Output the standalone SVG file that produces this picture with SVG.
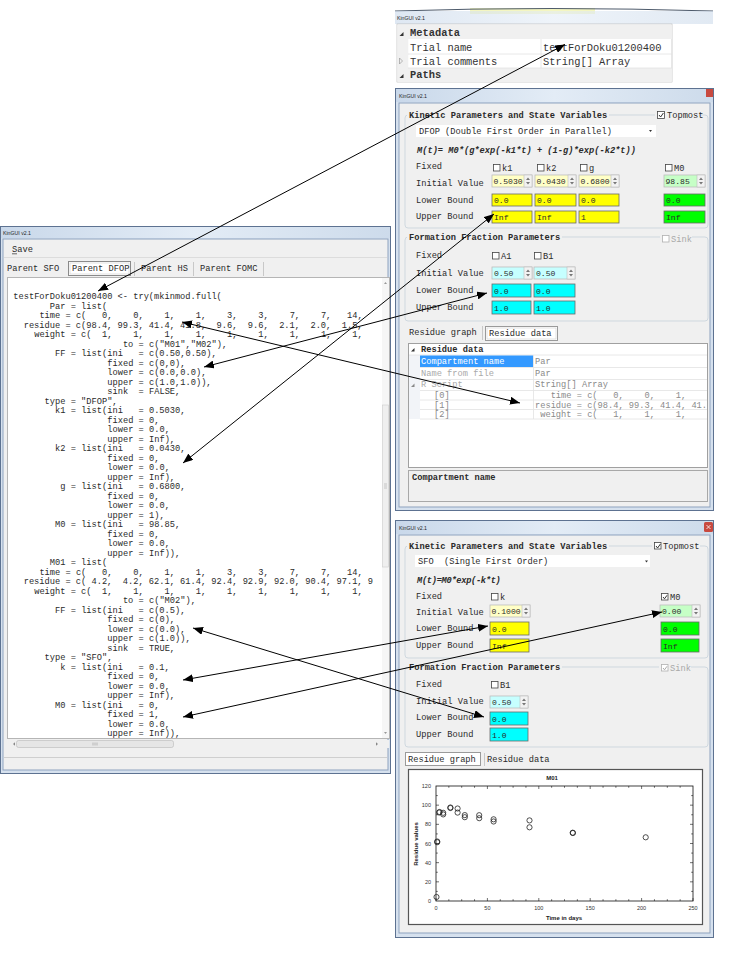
<svg xmlns="http://www.w3.org/2000/svg" width="738" height="961" viewBox="0 0 738 961">
<defs>
<style>
text{font-family:"Liberation Mono","DejaVu Sans Mono",monospace;font-size:8.7px;fill:#2a2a2a}
.t{font-family:"Liberation Sans",Arial,sans-serif;font-size:6px;fill:#1e1e1e}
.md{font-size:10.4px;fill:#333}
.iv{font-size:8.1px}
.b{font-weight:bold}
.bi{font-weight:bold;font-style:italic}
.gr{fill:#a9a9a9}
.gv{fill:#8a8a8a}
.w{fill:#fff}
.frame{fill:#d6e1ee;stroke:#5d7291}
.client{fill:#f0f0f0;stroke:#8ea3bf}
.grp{fill:none;stroke:#cfd8df}
.hbg{fill:#f0f0f0}
.fy{fill:#ffff00;stroke:#6a6a6a;stroke-width:.8}
.fly{fill:#ffffc6;stroke:#bdbdbd;stroke-width:.8}
.fg{fill:#00ff00;stroke:#6a6a6a;stroke-width:.8}
.flg{fill:#c6ffc6;stroke:#bdbdbd;stroke-width:.8}
.fc{fill:#00ffff;stroke:#6a6a6a;stroke-width:.8}
.flc{fill:#c6ffff;stroke:#bdbdbd;stroke-width:.8}
.sp{fill:#f2f2f2;stroke:#bdbdbd;stroke-width:.6}
.spa{fill:#777}
.cb{fill:#fff;stroke:#444;stroke-width:.8}
.cbg{fill:#fff;stroke:#b0b0b0;stroke-width:.8}
.ck{fill:none;stroke:#333;stroke-width:1}
.ckg{fill:none;stroke:#aaa;stroke-width:1}
.sep{stroke:#e2e2e2;stroke-width:.8}
.conn line{stroke:#000;stroke-width:1;fill:none;marker-start:url(#ah);marker-end:url(#ah)}
.code text{white-space:pre}
.pt{fill:none;stroke:#222;stroke-width:.8}
.ax{font-family:"Liberation Sans",Arial,sans-serif;font-size:5.5px;fill:#333}
.axb{font-family:"Liberation Sans",Arial,sans-serif;font-size:6px;font-weight:bold;fill:#222}
</style>
<linearGradient id="tb" x1="0" y1="0" x2="1" y2="0">
<stop offset="0" stop-color="#c9d8ea"/><stop offset="0.5" stop-color="#e3ecf6"/><stop offset="1" stop-color="#cddbeb"/>
</linearGradient>
<marker id="ah" viewBox="0 0 10 8" refX="10" refY="4" markerWidth="10" markerHeight="8" markerUnits="userSpaceOnUse" orient="auto-start-reverse">
<path d="M0,0 L10,4 L0,8 z" fill="#000"/>
</marker>
<clipPath id="codeclip"><rect x="7" y="277" width="367" height="461"/></clipPath>
<clipPath id="gridclip"><rect x="408" y="343" width="299" height="124"/></clipPath>
</defs>
<rect width="738" height="961" fill="#fff"/>

<!-- Metadata window -->
<g id="win-metadata">
<rect x="470" y="8" width="125" height="6" fill="#f4f6c2"/>
<path d="M395,11 Q550,6 713,11" fill="none" stroke="#4d5a6b" stroke-width="1"/>
<rect x="395" y="11" width="318" height="13" fill="url(#tb)" opacity="0.6"/>
<text class="t" x="397" y="20" textLength="28" lengthAdjust="spacingAndGlyphs">KinGUI v2.1</text>
<rect x="397" y="24" width="275" height="58" fill="#fff" stroke="#b0b0b0" stroke-width=".6"/>
<rect x="397.3" y="24.5" width="274.5" height="14.5" fill="#f0f0f0"/>
<rect x="397.3" y="68" width="274.5" height="14" fill="#f0f0f0"/>
<rect x="397.3" y="39" width="11" height="29" fill="#f0f0f0"/>
<line class="sep" x1="408" y1="54" x2="672" y2="54"/>
<line class="sep" x1="408" y1="68" x2="672" y2="68"/>
<line class="sep" x1="541" y1="39" x2="541" y2="68"/>
<path d="M399.5,36 l4,-4 v4z" fill="#333"/>
<path d="M399.5,58 l3,3 l-3,3z" fill="none" stroke="#999" stroke-width=".7"/>
<path d="M399.5,78 l4,-4 v4z" fill="#333"/>
<text class="md b" x="410" y="35.5">Metadata</text>
<text class="md" x="410" y="50.5">Trial name</text>
<text class="md" x="543" y="50.5">testForDoku01200400</text>
<text class="md" x="410" y="64.5">Trial comments</text>
<text class="md" x="543" y="64.5">String[] Array</text>
<text class="md b" x="410" y="77.5">Paths</text>
</g>

<!-- DFOP window -->
<g id="win-dfop">
<rect class="frame" x="395.5" y="88.5" width="318" height="422"/>
<rect x="396" y="89" width="317" height="13" fill="url(#tb)"/>
<rect x="706" y="89" width="7" height="8" fill="#c8493f"/>
<text class="t" x="399" y="98" textLength="28" lengthAdjust="spacingAndGlyphs">KinGUI v2.1</text>
<rect class="client" x="399" y="103" width="311" height="404"/>
<rect class="grp" x="405" y="115" width="303" height="113" rx="3"/>
<rect class="hbg" x="407" y="110" width="202" height="10"/>
<text class="b" x="409" y="118">Kinetic Parameters and State Variables</text>
<rect class="hbg" x="655" y="110" width="44" height="10"/>
<rect class="cb" x="657.5" y="111.5" width="7" height="7"/>
<path class="ck" d="M659,115 l1.6,2 l2.8,-4"/>
<text x="667" y="118">Topmost</text>
<rect x="416" y="125" width="240" height="12" fill="#fff"/>
<text x="419" y="134">DFOP (Double First Order in Parallel)</text>
<path d="M649,130 h3 l-1.5,2z" fill="#333"/>
<text class="bi" x="417" y="153">M(t)= M0*(g*exp(-k1*t) + (1-g)*exp(-k2*t))</text>
<text x="416" y="169">Fixed</text>
<rect class="cb" x="493.5" y="164.5" width="6.5" height="6.5"/><text x="502" y="171">k1</text>
<rect class="cb" x="537.5" y="164.5" width="6.5" height="6.5"/><text x="546" y="171">k2</text>
<rect class="cb" x="580.5" y="164.5" width="6.5" height="6.5"/><text x="589" y="171">g</text>
<rect class="cb" x="665.5" y="164.5" width="6.5" height="6.5"/><text x="674" y="171">M0</text>
<text x="416" y="186">Initial Value</text>
<rect class="fly" x="492" y="175" width="40" height="12"/><rect class="sp" x="524" y="175" width="8" height="12"/><path class="spa" d="M526,180l2,-2.5l2,2.5zM526,182l2,2.5l2,-2.5z"/><text class="iv" x="493.5" y="184">0.5030</text>
<rect class="fly" x="535" y="175" width="41" height="12"/><rect class="sp" x="568" y="175" width="8" height="12"/><path class="spa" d="M570,180l2,-2.5l2,2.5zM570,182l2,2.5l2,-2.5z"/><text class="iv" x="536.5" y="184">0.0430</text>
<rect class="fly" x="579" y="175" width="40" height="12"/><rect class="sp" x="611" y="175" width="8" height="12"/><path class="spa" d="M613,180l2,-2.5l2,2.5zM613,182l2,2.5l2,-2.5z"/><text class="iv" x="580.5" y="184">0.6800</text>
<rect class="flg" x="664" y="175" width="41" height="12"/><rect class="sp" x="697" y="175" width="8" height="12"/><path class="spa" d="M699,180l2,-2.5l2,2.5zM699,182l2,2.5l2,-2.5z"/><text class="iv" x="665.5" y="184">98.85</text>
<text x="416" y="203">Lower Bound</text>
<rect class="fy" x="492" y="194" width="40" height="12"/><text class="iv" x="494" y="203">0.0</text>
<rect class="fy" x="535" y="194" width="41" height="12"/><text class="iv" x="537" y="203">0.0</text>
<rect class="fy" x="579" y="194" width="40" height="12"/><text class="iv" x="581" y="203">0.0</text>
<rect class="fg" x="664" y="194" width="41" height="12"/><text class="iv" x="666" y="203">0.0</text>
<text x="416" y="219">Upper Bound</text>
<rect class="fy" x="492" y="211" width="40" height="12"/><text class="iv" x="494" y="220">Inf</text>
<rect class="fy" x="535" y="211" width="41" height="12"/><text class="iv" x="537" y="220">Inf</text>
<rect class="fy" x="579" y="211" width="40" height="12"/><text class="iv" x="581" y="220">1</text>
<rect class="fg" x="664" y="211" width="41" height="12"/><text class="iv" x="666" y="220">Inf</text>

<rect class="grp" x="405" y="237" width="303" height="84" rx="3"/>
<rect class="hbg" x="407" y="232" width="155" height="10"/>
<text class="b" x="409" y="240">Formation Fraction Parameters</text>
<rect class="hbg" x="660" y="232" width="32" height="10"/>
<rect class="cbg" x="662.5" y="235.5" width="6.5" height="6.5"/>
<text class="gr" x="671" y="242">Sink</text>
<text x="416" y="258">Fixed</text>
<rect class="cb" x="492.5" y="252.5" width="6.5" height="6.5"/><text x="501" y="259">A1</text>
<rect class="cb" x="534.5" y="252.5" width="6.5" height="6.5"/><text x="543" y="259">B1</text>
<text x="416" y="276">Initial Value</text>
<rect class="flc" x="492" y="267" width="40" height="12"/><rect class="sp" x="524" y="267" width="8" height="12"/><path class="spa" d="M526,272l2,-2.5l2,2.5zM526,274l2,2.5l2,-2.5z"/><text class="iv" x="494" y="276">0.50</text>
<rect class="flc" x="534" y="267" width="41" height="12"/><rect class="sp" x="567" y="267" width="8" height="12"/><path class="spa" d="M569,272l2,-2.5l2,2.5zM569,274l2,2.5l2,-2.5z"/><text class="iv" x="536" y="276">0.50</text>
<text x="416" y="293">Lower Bound</text>
<rect class="fc" x="492" y="284" width="39" height="13"/><text class="iv" x="494" y="293.5">0.0</text>
<rect class="fc" x="534" y="284" width="41" height="13"/><text class="iv" x="536" y="293.5">0.0</text>
<text x="416" y="310">Upper Bound</text>
<rect class="fc" x="492" y="301" width="39" height="13"/><text class="iv" x="494" y="310.5">1.0</text>
<rect class="fc" x="534" y="301" width="41" height="13"/><text class="iv" x="536" y="310.5">1.0</text>

<text x="409" y="335">Residue graph</text>
<line x1="482.5" y1="326" x2="482.5" y2="340" stroke="#c8c8c8"/>
<rect x="485.5" y="326.5" width="72" height="14" fill="#fff" stroke="#9a9a9a"/>
<rect x="487" y="328" width="69" height="11" fill="none" stroke="#d0d0d0" stroke-width=".6"/>
<text x="489" y="336">Residue data</text>

<rect x="408.5" y="343.5" width="299" height="124" fill="#fff" stroke="#a0a0a0"/>
<rect x="409" y="355" width="11" height="64" fill="#f2f4f8"/>
<line class="sep" x1="409" y1="355" x2="707" y2="355"/>
<line class="sep" x1="420" y1="367.5" x2="707" y2="367.5"/>
<line class="sep" x1="420" y1="379.5" x2="707" y2="379.5"/>
<line class="sep" x1="420" y1="390.5" x2="707" y2="390.5"/>
<line class="sep" x1="420" y1="400" x2="707" y2="400"/>
<line class="sep" x1="420" y1="409.5" x2="707" y2="409.5"/>
<line class="sep" x1="420" y1="419" x2="707" y2="419"/>
<line class="sep" x1="533.5" y1="355" x2="533.5" y2="419"/>
<path d="M411,351.5 l3.5,-3.5 v3.5z" fill="#333"/>
<text class="b" x="421" y="352">Residue data</text>
<rect x="420" y="355.5" width="113" height="11.5" fill="#3399ff"/>
<text class="w" x="421" y="364">Compartment name</text>
<text class="gv" x="535" y="364">Par</text>
<text class="gr" x="421" y="376">Name from file</text>
<text class="gv" x="535" y="376">Par</text>
<path d="M411,387 l3.5,-3.5 v3.5z" fill="#888"/>
<text class="gr" x="421" y="387">R Script</text>
<text class="gv" x="535" y="387">String[] Array</text>
<g clip-path="url(#gridclip)" xml:space="preserve">
<text class="gv" x="434" y="398">[0]</text>
<text class="gv" x="535" y="398" style="white-space:pre">   time = c(   0,    0,    1,</text>
<text class="gv" x="434" y="407.5">[1]</text>
<text class="gv" x="535" y="407.5" style="white-space:pre">residue = c(98.4, 99.3, 41.4, 41.</text>
<text class="gv" x="434" y="417">[2]</text>
<text class="gv" x="535" y="417" style="white-space:pre"> weight = c(   1,    1,    1,</text>
</g>
<rect x="408.5" y="470.5" width="299" height="31" fill="#f0f0f0" stroke="#a8a8a8"/>
<text class="b" x="412" y="480">Compartment name</text>
</g>

<!-- Code window -->
<g id="win-code">
<rect class="frame" x="0.5" y="226.5" width="390" height="547"/>
<rect x="1" y="227" width="389" height="11" fill="url(#tb)"/>
<text class="t" x="3" y="235" textLength="28" lengthAdjust="spacingAndGlyphs">KinGUI v2.1</text>
<rect class="client" x="3" y="239" width="385" height="531"/>
<text x="12" y="252">Save</text>
<line x1="12" y1="253.8" x2="17" y2="253.8" stroke="#2a2a2a" stroke-width=".7"/>
<line x1="4" y1="257.5" x2="387" y2="257.5" stroke="#dcdcdc"/>
<text x="7" y="271">Parent SFO</text>
<rect x="68.5" y="261.5" width="62" height="14" fill="#fff" stroke="#8a8a8a"/>
<rect x="70" y="263" width="59" height="11" fill="none" stroke="#cfcfcf" stroke-width=".6"/>
<text x="72" y="271">Parent DFOP</text>
<line x1="134.5" y1="262" x2="134.5" y2="276" stroke="#c8c8c8"/>
<text x="141" y="271">Parent HS</text>
<line x1="193.5" y1="262" x2="193.5" y2="276" stroke="#c8c8c8"/>
<text x="200" y="271">Parent FOMC</text>
<line x1="263.5" y1="262" x2="263.5" y2="276" stroke="#c8c8c8"/>
<rect x="7.5" y="277.5" width="382" height="461" fill="#fff" stroke="#b5b5b5"/>
<rect x="382" y="278" width="7" height="460" fill="#f6f6f6"/>
<path d="M384,284 l1.5,-2 l1.5,2z" fill="#999"/>
<rect x="382.5" y="405" width="6" height="162" fill="#efefef" stroke="#cdcdcd" stroke-width=".6"/>
<path d="M384,484h3M384,486h3M384,488h3" stroke="#999" stroke-width=".5"/>
<path d="M384,732 l1.5,2 l1.5,-2z" fill="#999"/>
<rect x="7.5" y="740" width="381.5" height="8" fill="#f0f0f0"/>
<path d="M13,744 l2,-1.8 v3.6z" fill="#888"/>
<rect x="16.5" y="740.5" width="157" height="7" rx="2" fill="#e6e6e6" stroke="#b8b8b8" stroke-width=".6"/>
<path d="M93,742.5v3M95,742.5v3M97,742.5v3" stroke="#888" stroke-width=".5"/>
<path d="M378,744 l-2,-1.8 v3.6z" fill="#888"/>
<line x1="4" y1="757.5" x2="387" y2="757.5" stroke="#cfcfcf"/>
<g class="code" clip-path="url(#codeclip)" xml:space="preserve">
<text x="13.3" y="299">testForDoku01200400 &lt;- try(mkinmod.full(</text>
<text x="49.8" y="308.5">Par = list(</text>
<text x="39.4" y="318">time = c(   0,    0,    1,    1,    3,    3,    7,    7,   14,</text>
<text x="23.7" y="327.5">residue = c(98.4, 99.3, 41.4, 41.8,  9.6,  9.6,  2.1,  2.0,  1.5,</text>
<text x="34.2" y="337">weight = c(  1,    1,    1,    1,    1,    1,    1,    1,    1,</text>
<text x="122.9" y="346.5">to = c("M01","M02"),</text>
<text x="55.1" y="356">FF = list(ini   = c(0.50,0.50),</text>
<text x="107.3" y="365.5">fixed = c(0,0),</text>
<text x="107.3" y="375">lower = c(0.0,0.0),</text>
<text x="107.3" y="384.5">upper = c(1.0,1.0)),</text>
<text x="107.3" y="394">sink  = FALSE,</text>
<text x="44.6" y="403.5">type = "DFOP",</text>
<text x="55.1" y="413">k1 = list(ini   = 0.5030,</text>
<text x="107.3" y="422.5">fixed = 0,</text>
<text x="107.3" y="432">lower = 0.0,</text>
<text x="107.3" y="441.5">upper = Inf),</text>
<text x="55.1" y="451">k2 = list(ini   = 0.0430,</text>
<text x="107.3" y="460.5">fixed = 0,</text>
<text x="107.3" y="470">lower = 0.0,</text>
<text x="107.3" y="479.5">upper = Inf),</text>
<text x="60.3" y="489">g = list(ini   = 0.6800,</text>
<text x="107.3" y="498.5">fixed = 0,</text>
<text x="107.3" y="508">lower = 0.0,</text>
<text x="107.3" y="517.5">upper = 1),</text>
<text x="55.1" y="527">M0 = list(ini   = 98.85,</text>
<text x="107.3" y="536.5">fixed = 0,</text>
<text x="107.3" y="546">lower = 0.0,</text>
<text x="107.3" y="555.5">upper = Inf)),</text>
<text x="49.8" y="565">M01 = list(</text>
<text x="39.4" y="574.5">time = c(   0,    0,    1,    1,    3,    3,    7,    7,   14,</text>
<text x="23.7" y="584">residue = c( 4.2,  4.2, 62.1, 61.4, 92.4, 92.9, 92.0, 90.4, 97.1, 9</text>
<text x="34.2" y="593.5">weight = c(  1,    1,    1,    1,    1,    1,    1,    1,    1,</text>
<text x="122.9" y="603">to = c("M02"),</text>
<text x="55.1" y="612.5">FF = list(ini   = c(0.5),</text>
<text x="107.3" y="622">fixed = c(0),</text>
<text x="107.3" y="631.5">lower = c(0.0),</text>
<text x="107.3" y="641">upper = c(1.0)),</text>
<text x="107.3" y="650.5">sink  = TRUE,</text>
<text x="44.6" y="660">type = "SFO",</text>
<text x="60.3" y="669.5">k = list(ini   = 0.1,</text>
<text x="107.3" y="679">fixed = 0,</text>
<text x="107.3" y="688.5">lower = 0.0,</text>
<text x="107.3" y="698">upper = Inf),</text>
<text x="55.1" y="707.5">M0 = list(ini   = 0,</text>
<text x="107.3" y="717">fixed = 1,</text>
<text x="107.3" y="726.5">lower = 0.0,</text>
<text x="107.3" y="736">upper = Inf)),</text>
</g>
</g>

<!-- SFO window -->
<g id="win-sfo">
<rect class="frame" x="395.5" y="520.5" width="318" height="417"/>
<rect x="396" y="521" width="317" height="13" fill="url(#tb)"/>
<rect x="704" y="522" width="9" height="10" rx="1.5" fill="#c8493f"/>
<path d="M706.5,525 l4,4 M710.5,525 l-4,4" stroke="#fff" stroke-width=".8"/>
<text class="t" x="399" y="530" textLength="28" lengthAdjust="spacingAndGlyphs">KinGUI v2.1</text>
<rect class="client" x="399" y="535" width="311" height="398"/>
<rect class="grp" x="405" y="546" width="303" height="112" rx="3"/>
<rect class="hbg" x="407" y="541" width="202" height="10"/>
<text class="b" x="409" y="549">Kinetic Parameters and State Variables</text>
<rect class="hbg" x="652" y="541" width="48" height="10"/>
<rect class="cb" x="654.5" y="542.5" width="6.5" height="6.5"/>
<path class="ck" d="M656,546 l1.6,2 l2.8,-4"/>
<text x="663" y="549">Topmost</text>
<rect x="415" y="555" width="235" height="12" fill="#fff"/>
<text x="418" y="564" xml:space="preserve" style="white-space:pre">SFO  (Single First Order)</text>
<path d="M645,560.5 h3 l-1.5,2z" fill="#333"/>
<text class="bi" x="417" y="583" style="letter-spacing:-0.3px">M(t)=M0*exp(-k*t)</text>
<text x="416" y="599">Fixed</text>
<rect class="cb" x="491.5" y="593.5" width="6.5" height="6.5"/><text x="500" y="600">k</text>
<rect class="cb" x="661.5" y="593.5" width="6.5" height="6.5"/>
<path class="ck" d="M663,597 l1.5,1.8 l2.5,-3.5"/><text x="670" y="600">M0</text>
<text x="416" y="615">Initial Value</text>
<rect class="fly" x="490" y="605" width="40" height="12"/><rect class="sp" x="522" y="605" width="8" height="12"/><path class="spa" d="M524,610l2,-2.5l2,2.5zM524,612l2,2.5l2,-2.5z"/><text class="iv" x="491.5" y="614">0.1000</text>
<rect class="flg" x="660" y="605" width="40" height="12"/><rect class="sp" x="692" y="605" width="8" height="12"/><path class="spa" d="M694,610l2,-2.5l2,2.5zM694,612l2,2.5l2,-2.5z"/><text class="iv" x="662" y="614">0.00</text>
<text x="416" y="631">Lower Bound</text>
<rect class="fy" x="490" y="622" width="39" height="13"/><text class="iv" x="492" y="631.5">0.0</text>
<rect class="fg" x="661" y="622" width="38" height="13"/><text class="iv" x="663" y="631.5">0.0</text>
<text x="416" y="648">Upper Bound</text>
<rect class="fy" x="490" y="639" width="39" height="13"/><text class="iv" x="492" y="648.5">Inf</text>
<rect class="fg" x="661" y="639" width="38" height="13"/><text class="iv" x="663" y="648.5">Inf</text>

<rect class="grp" x="405" y="667" width="303" height="80" rx="3"/>
<rect class="hbg" x="407" y="662" width="155" height="10"/>
<text class="b" x="409" y="670">Formation Fraction Parameters</text>
<rect class="hbg" x="659" y="662" width="32" height="10"/>
<rect class="cbg" x="661.5" y="664.5" width="6.5" height="6.5"/>
<path class="ckg" d="M663,668 l1.5,1.8 l2.5,-3.5"/>
<text class="gr" x="670" y="671">Sink</text>
<text x="416" y="687">Fixed</text>
<rect class="cb" x="491.5" y="681.5" width="6.5" height="6.5"/><text x="500" y="688">B1</text>
<text x="416" y="704">Initial Value</text>
<rect class="flc" x="490" y="696" width="38" height="12"/><rect class="sp" x="520" y="696" width="8" height="12"/><path class="spa" d="M522,701l2,-2.5l2,2.5zM522,703l2,2.5l2,-2.5z"/><text class="iv" x="492" y="705">0.50</text>
<text x="416" y="720">Lower Bound</text>
<rect class="fc" x="490" y="712" width="38" height="13"/><text class="iv" x="492" y="721.5">0.0</text>
<text x="416" y="737">Upper Bound</text>
<rect class="fc" x="490" y="728" width="38" height="13"/><text class="iv" x="492" y="737.5">1.0</text>

<rect x="405.5" y="752.5" width="75" height="13" fill="#fff" stroke="#9a9a9a"/>
<text x="408" y="762">Residue graph</text>
<line x1="484.5" y1="753" x2="484.5" y2="766" stroke="#c8c8c8"/>
<text x="487" y="762">Residue data</text>

<g id="chart">
<rect x="408.5" y="769.5" width="294" height="155" fill="#fff" stroke="#555" stroke-width="1.2"/>
<rect x="436" y="786" width="257" height="115" fill="none" stroke="#111" stroke-width=".8"/>
<text class="axb" x="552" y="780" text-anchor="middle">M01</text>
<path d="M436,901v-3M448.85,901v-1.8M461.7,901v-1.8M474.55,901v-1.8M487.4,901v-3M500.25,901v-1.8M513.1,901v-1.8M525.95,901v-1.8M538.8,901v-3M551.65,901v-1.8M564.5,901v-1.8M577.35,901v-1.8M590.2,901v-3M603.05,901v-1.8M615.9,901v-1.8M628.75,901v-1.8M641.6,901v-3M654.45,901v-1.8M667.3,901v-1.8M680.15,901v-1.8M693,901v-3
M448.85,786v1.8M461.7,786v1.8M474.55,786v1.8M487.4,786v3M500.25,786v1.8M513.1,786v1.8M525.95,786v1.8M538.8,786v3M551.65,786v1.8M564.5,786v1.8M577.35,786v1.8M590.2,786v3M603.05,786v1.8M615.9,786v1.8M628.75,786v1.8M641.6,786v3M654.45,786v1.8M667.3,786v1.8M680.15,786v1.8
M436,891.42h1.8M436,881.83h3M436,872.25h1.8M436,862.67h3M436,853.08h1.8M436,843.5h3M436,833.92h1.8M436,824.33h3M436,814.75h1.8M436,805.17h3M436,795.58h1.8
M693,891.42h-1.8M693,881.83h-3M693,872.25h-1.8M693,862.67h-3M693,853.08h-1.8M693,843.5h-3M693,833.92h-1.8M693,824.33h-3M693,814.75h-1.8M693,805.17h-3M693,795.58h-1.8" stroke="#111" stroke-width=".6" fill="none"/>
<text class="ax" x="431" y="903" text-anchor="end">0</text>
<text class="ax" x="431" y="883.8" text-anchor="end">20</text>
<text class="ax" x="431" y="864.7" text-anchor="end">40</text>
<text class="ax" x="431" y="845.5" text-anchor="end">60</text>
<text class="ax" x="431" y="826.3" text-anchor="end">80</text>
<text class="ax" x="431" y="807.2" text-anchor="end">100</text>
<text class="ax" x="431" y="788" text-anchor="end">120</text>
<text class="ax" x="436" y="910" text-anchor="middle">0</text>
<text class="ax" x="487.4" y="910" text-anchor="middle">50</text>
<text class="ax" x="538.8" y="910" text-anchor="middle">100</text>
<text class="ax" x="590.2" y="910" text-anchor="middle">150</text>
<text class="ax" x="641.6" y="910" text-anchor="middle">200</text>
<text class="ax" x="693" y="910" text-anchor="middle">250</text>
<text class="axb" x="564" y="920" text-anchor="middle">Time in days</text>
<text class="axb" x="0" y="0" text-anchor="middle" transform="translate(418,844) rotate(-90)">Residue values</text>
<g class="pt">
<circle cx="436.5" cy="897" r="2.6"/>
<circle cx="437.2" cy="841.5" r="2.6"/>
<circle cx="437.2" cy="842.2" r="2.6"/>
<circle cx="439.1" cy="812.5" r="2.6"/>
<circle cx="439.6" cy="812" r="2.6"/>
<circle cx="443.2" cy="812.8" r="2.6"/>
<circle cx="443.2" cy="814.4" r="2.6"/>
<circle cx="450.4" cy="808" r="2.6"/>
<circle cx="450.4" cy="807.5" r="2.6"/>
<circle cx="457.6" cy="808.5" r="2.6"/>
<circle cx="457.6" cy="812.6" r="2.6"/>
<circle cx="464.8" cy="815.1" r="2.6"/>
<circle cx="464.8" cy="817.2" r="2.6"/>
<circle cx="479.2" cy="815.2" r="2.6"/>
<circle cx="479.2" cy="818.2" r="2.6"/>
<circle cx="493.6" cy="819.3" r="2.6"/>
<circle cx="493.6" cy="821.5" r="2.6"/>
<circle cx="529.5" cy="820.4" r="2.6"/>
<circle cx="529.5" cy="827.3" r="2.6"/>
<circle cx="572.7" cy="832.7" r="2.6"/>
<circle cx="572.9" cy="833" r="2.6"/>
<circle cx="645.7" cy="837.3" r="2.6"/>
</g>
</g>
</g>

<!-- Connectors -->
<g id="connectors" class="conn">
<line x1="98" y1="291" x2="565" y2="44.5"/>
<line x1="183" y1="463" x2="494" y2="214"/>
<line x1="204" y1="367" x2="487" y2="293"/>
<line x1="182" y1="322" x2="520" y2="403"/>
<line x1="183" y1="680" x2="488" y2="626"/>
<line x1="183" y1="717" x2="662" y2="612"/>
<line x1="193" y1="628" x2="484" y2="717"/>
</g>
</svg>
